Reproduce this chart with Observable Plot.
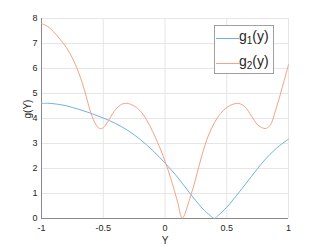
<!DOCTYPE html>
<html><head><meta charset="utf-8">
<script src="https://cdn.jsdelivr.net/npm/d3@7"></script>
<script src="https://cdn.jsdelivr.net/npm/@observablehq/plot@0.6"></script>
<style>
body{margin:0;background:#fff;font-family:"Liberation Sans",Arial,sans-serif;}
#wrap{position:relative;width:319px;height:246px;}
#legend{position:absolute;left:214px;top:25px;width:60px;height:49px;border:1px solid #a0a0a0;background:#fff;box-sizing:border-box;font-size:14px;color:#262626;}
.row{position:absolute;left:0;height:20px;}
.row .ln{position:absolute;left:1px;width:23px;height:0;border-top:1px solid;}
.row .tx{position:absolute;left:24px;top:-10px;white-space:nowrap;line-height:17px;}
sub{font-size:10px;vertical-align:-3px;}
</style></head>
<body><div id="wrap"><div id="chart"></div>
<div id="legend">
<div class="row" style="top:12px"><div class="ln" style="border-color:#6fb3e3"></div><div class="tx">g<sub>1</sub>(y)</div></div>
<div class="row" style="top:37px"><div class="ln" style="border-color:#f4a386"></div><div class="tx">g<sub>2</sub>(y)</div></div>
</div></div>
<script>
const g1X = [-1,-0.95,-0.9,-0.8,-0.7,-0.6,-0.5,-0.4,-0.3,-0.2,-0.1,0,0.1,0.2,0.3,0.37,0.4,0.43,0.5,0.6,0.7,0.8,0.9,1];
const g1Y = [4.60,4.61,4.59,4.51,4.37,4.21,4.02,3.80,3.52,3.16,2.72,2.22,1.66,1.02,0.42,0.1,0.0,0.12,0.45,1.05,1.68,2.3,2.8,3.18];
const g2X = [-1,-0.95,-0.9,-0.85,-0.8,-0.75,-0.7,-0.65,-0.6,-0.56,-0.53,-0.5,-0.45,-0.4,-0.35,-0.31,-0.25,-0.2,-0.15,-0.1,-0.05,0,0.05,0.1,0.14,0.2,0.25,0.3,0.35,0.4,0.45,0.5,0.55,0.6,0.65,0.7,0.75,0.81,0.85,0.9,0.95,1];
const g2Y = [7.80,7.68,7.46,7.17,6.85,6.42,5.85,5.1,4.22,3.76,3.6,3.63,3.98,4.36,4.57,4.61,4.5,4.3,3.95,3.48,2.93,2.3,1.55,0.7,0.02,0.78,1.62,2.55,3.3,3.83,4.2,4.44,4.57,4.6,4.45,4.1,3.75,3.6,3.72,4.4,5.25,6.15];
const xTicks = [-1,-0.5,0,0.5,1];
const yTicks = [0,1,2,3,4,5,6,7,8];

const d1 = g1X.map((x,i)=>({x, y:g1Y[i]}));
const d2 = g2X.map((x,i)=>({x, y:g2Y[i]}));

const chart = Plot.plot({
  width:319, height:246,
  marginLeft:41, marginRight:31, marginTop:18, marginBottom:28,
  style:{fontFamily:"'Liberation Sans',Arial,sans-serif", fontSize:"9px", color:"#262626", background:"#fff"},
  x:{domain:[-1,1], ticks:xTicks},
  y:{domain:[0,8], ticks:yTicks},
  marks:[
    Plot.gridX(xTicks,{stroke:"#e6e6e6", strokeOpacity:1}),
    Plot.gridY(yTicks,{stroke:"#e6e6e6", strokeOpacity:1}),
    Plot.axisX({ticks:xTicks, tickSize:0, tickPadding:6, tickFormat:d=>String(d), label:null, fill:"#262626", fontSize:9}),
    Plot.axisY({ticks:yTicks, tickSize:0, tickPadding:4, label:null, fill:"#262626", fontSize:9}),
    Plot.ruleX([-1],{stroke:"#8a8a8a"}),
    Plot.ruleY([0],{stroke:"#8a8a8a"}),
    Plot.line(d1,{x:"x", y:"y", stroke:"#6fb3e3", strokeWidth:1, curve:"catmull-rom"}),
    Plot.line(d2,{x:"x", y:"y", stroke:"#f4a386", strokeWidth:1, curve:"catmull-rom"}),
    Plot.text(["Y"],{frameAnchor:"bottom", lineAnchor:"middle", dy:22, fill:"#262626", fontSize:10}),
    Plot.text(["g(Y)"],{frameAnchor:"left", dx:-14, rotate:-90, fill:"#262626", fontSize:10})
  ]
});
document.getElementById("chart").appendChild(chart);
</script></body></html>
